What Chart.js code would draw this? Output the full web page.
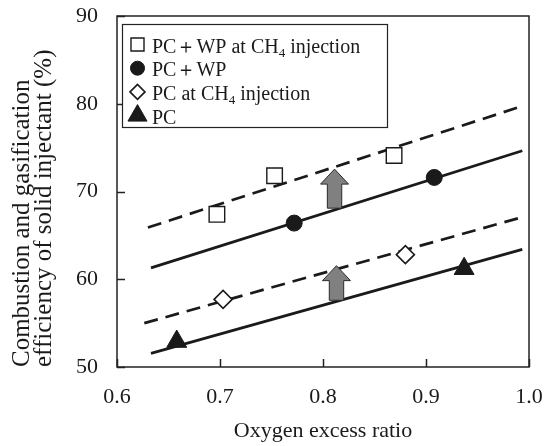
<!DOCTYPE html>
<html><head><meta charset="utf-8">
<script src="https://cdn.jsdelivr.net/npm/chart.js@4.4.1/dist/chart.umd.min.js"></script>
<style>html,body{margin:0;padding:0;background:#fff}canvas{display:block}</style>
</head><body>
<canvas id="c" width="544" height="446"></canvas>
<script>
// ---- data ----
const seriesLabels = ['PC＋WP at CH₄ injection', 'PC＋WP', 'PC at CH₄ injection', 'PC'];
const xPcWpCh4 = [0.697, 0.753, 0.869];
const yPcWpCh4 = [67.4, 71.8, 74.1];
const xPcWp = [0.772, 0.908];
const yPcWp = [66.4, 71.6];
const xPcCh4 = [0.703, 0.880];
const yPcCh4 = [57.7, 62.8];
const xPc = [0.658, 0.937];
const yPc = [52.9, 61.2];
// trend lines (end points)
const fitXPcWpCh4 = [0.630, 0.990];
const fitYPcWpCh4 = [65.9, 79.6];
const fitXPcWp = [0.633, 0.9935];
const fitYPcWp = [61.3, 74.65];
const fitXPcCh4 = [0.6265, 0.9896];
const fitYPcCh4 = [55.0, 66.95];
const fitXPc = [0.633, 0.9935];
const fitYPc = [51.55, 63.4];
// improvement arrows
const arrowX = [0.8112, 0.8131];
const arrowBase = [68.1, 57.6];
const arrowTip = [72.55, 61.55];
// axes
const xMin = 0.6, xMax = 1.0, xStep = 0.1;
const yMin = 50, yMax = 90, yStep = 10;
const xTitle = 'Oxygen excess ratio';
const yTitle = ['Combustion and gasification', 'efficiency of solid injectant (%)'];

const pts = (xs, ys) => xs.map((x, i) => ({x: x, y: ys[i]}));
const INK = '#1a1a1a';
const SERIF = '"Liberation Serif", "Times New Roman", serif';

const markers = [
  {label: seriesLabels[0], data: pts(xPcWpCh4, yPcWpCh4), pointStyle: 'rect', pointRadius: 11, backgroundColor: '#fff', borderColor: INK, borderWidth: 1.4, legendRadius: 9.2},
  {label: seriesLabels[1], data: pts(xPcWp, yPcWp), pointStyle: 'circle', pointRadius: 8, backgroundColor: INK, borderColor: INK, borderWidth: 1, legendRadius: 7},
  {label: seriesLabels[2], data: pts(xPcCh4, yPcCh4), pointStyle: 'rectRot', pointRadius: 9, backgroundColor: '#fff', borderColor: INK, borderWidth: 1.6, legendRadius: 7.5},
  {label: seriesLabels[3], data: pts(xPc, yPc), pointStyle: 'triangle', pointRadius: 11.5, backgroundColor: INK, borderColor: INK, borderWidth: 1, legendRadius: 11}
].map(d => Object.assign({showLine: false, pointHoverRadius: d.pointRadius, isMarker: true}, d));

const lineDs = (xs, ys, dash) => ({
  label: '', data: pts(xs, ys), showLine: true, pointRadius: 0, borderColor: INK,
  borderWidth: 2.7, borderDash: dash, fill: false, isMarker: false
});
const lines = [
  lineDs(fitXPcWpCh4, fitYPcWpCh4, [14, 8]),
  lineDs(fitXPcWp, fitYPcWp, []),
  lineDs(fitXPcCh4, fitYPcCh4, [14, 8]),
  lineDs(fitXPc, fitYPc, [])
];

const arrowsPlugin = {
  id: 'arrows',
  afterDatasetsDraw(chart) {
    const ctx = chart.ctx, xs = chart.scales.x, ys = chart.scales.y;
    ctx.save();
    ctx.fillStyle = '#808080'; ctx.strokeStyle = '#2a2a2a'; ctx.lineWidth = 1;
    arrowX.forEach((ax, i) => {
      const px = xs.getPixelForValue(ax);
      const pb = ys.getPixelForValue(arrowBase[i]);
      const pt = ys.getPixelForValue(arrowTip[i]);
      const hl = 15, hh = 14, sh = 7.2;
      ctx.beginPath();
      ctx.moveTo(px - sh, pb); ctx.lineTo(px - sh, pt + hl); ctx.lineTo(px - hh, pt + hl);
      ctx.lineTo(px, pt); ctx.lineTo(px + hh, pt + hl); ctx.lineTo(px + sh, pt + hl);
      ctx.lineTo(px + sh, pb); ctx.closePath();
      ctx.fill(); ctx.stroke();
    });
    ctx.restore();
  }
};

function drawRich(ctx, text, x, y, size) {
  const parts = text.split('₄');
  let cx = x;
  parts.forEach((p, i) => {
    ctx.font = size + 'px ' + SERIF;
    ctx.fillText(p, cx, y);
    cx += ctx.measureText(p).width;
    if (i < parts.length - 1) {
      ctx.font = Math.round(size * 0.65) + 'px ' + SERIF;
      ctx.fillText('4', cx, y + 4);
      cx += ctx.measureText('4').width;
    }
  });
}

const framePlugin = {
  id: 'frame',
  afterDraw(chart) {
    const ctx = chart.ctx, ca = chart.chartArea, xs = chart.scales.x, ys = chart.scales.y;
    ctx.save();
    ctx.strokeStyle = '#222'; ctx.lineWidth = 1.5;
    ctx.strokeRect(ca.left, ca.top, ca.right - ca.left, ca.bottom - ca.top);
    ctx.beginPath();
    xs.ticks.forEach(t => {
      const p = Math.round(xs.getPixelForValue(t.value)) + 0.5;
      ctx.moveTo(p, ca.bottom); ctx.lineTo(p, ca.bottom - 8);
    });
    ys.ticks.forEach(t => {
      const p = Math.round(ys.getPixelForValue(t.value)) + 0.5;
      ctx.moveTo(ca.left, p); ctx.lineTo(ca.left + 8, p);
    });
    ctx.stroke();
    // legend box
    const bx = ca.left + 5.5, by = ca.top + 8.5, bw = 265, bh = 103;
    ctx.fillStyle = '#fff';
    ctx.fillRect(bx, by, bw, bh);
    ctx.lineWidth = 1.2; ctx.strokeStyle = '#222';
    ctx.strokeRect(bx, by, bw, bh);
    chart.data.datasets.filter(d => d.isMarker).forEach((d, i) => {
      const cy = by + 20 + i * 23.7;
      ctx.fillStyle = d.backgroundColor; ctx.strokeStyle = d.borderColor;
      ctx.lineWidth = d.borderWidth;
      Chart.helpers.drawPoint(ctx, {pointStyle: d.pointStyle, radius: d.legendRadius, rotation: 0, borderWidth: d.borderWidth}, bx + 15, cy);
      ctx.fillStyle = INK; ctx.textBaseline = 'alphabetic'; ctx.textAlign = 'left';
      drawRich(ctx, d.label, bx + 29.5, cy + 8, 20);
    });
    ctx.restore();
  }
};

new Chart(document.getElementById('c'), {
  type: 'scatter',
  data: {datasets: markers.concat(lines)},
  options: {
    responsive: false,
    animation: false,
    devicePixelRatio: 1,
    events: [],
    layout: {padding: {top: 16, right: 15, left: 0, bottom: 0}},
    plugins: {legend: {display: false}, tooltip: {enabled: false}},
    scales: {
      x: {
        type: 'linear', min: xMin, max: xMax,
        grid: {display: false, drawTicks: false}, border: {display: false},
        ticks: {stepSize: xStep, color: INK, padding: 17, font: {family: SERIF, size: 22},
          callback: v => Number(v).toFixed(1)},
        title: {display: true, text: xTitle, color: INK, font: {family: SERIF, size: 22}, padding: {top: 0, bottom: 2}},
        afterFit: s => { s.height = 79; s.paddingLeft = 0; s.paddingRight = 0; }
      },
      y: {
        type: 'linear', min: yMin, max: yMax,
        grid: {display: false, drawTicks: false}, border: {display: false},
        ticks: {stepSize: yStep, color: INK, padding: 19, font: {family: SERIF, size: 22},
          callback: v => String(v)},
        title: {display: true, text: yTitle, align: 'start', color: INK,
          font: {family: SERIF, size: 25, lineHeight: 0.9}, padding: {top: 11, bottom: 0}},
        afterFit: s => { s.width = 117; s.paddingTop = 0; s.paddingBottom = 0; }
      }
    }
  },
  plugins: [arrowsPlugin, framePlugin]
});
</script>
</body></html>
